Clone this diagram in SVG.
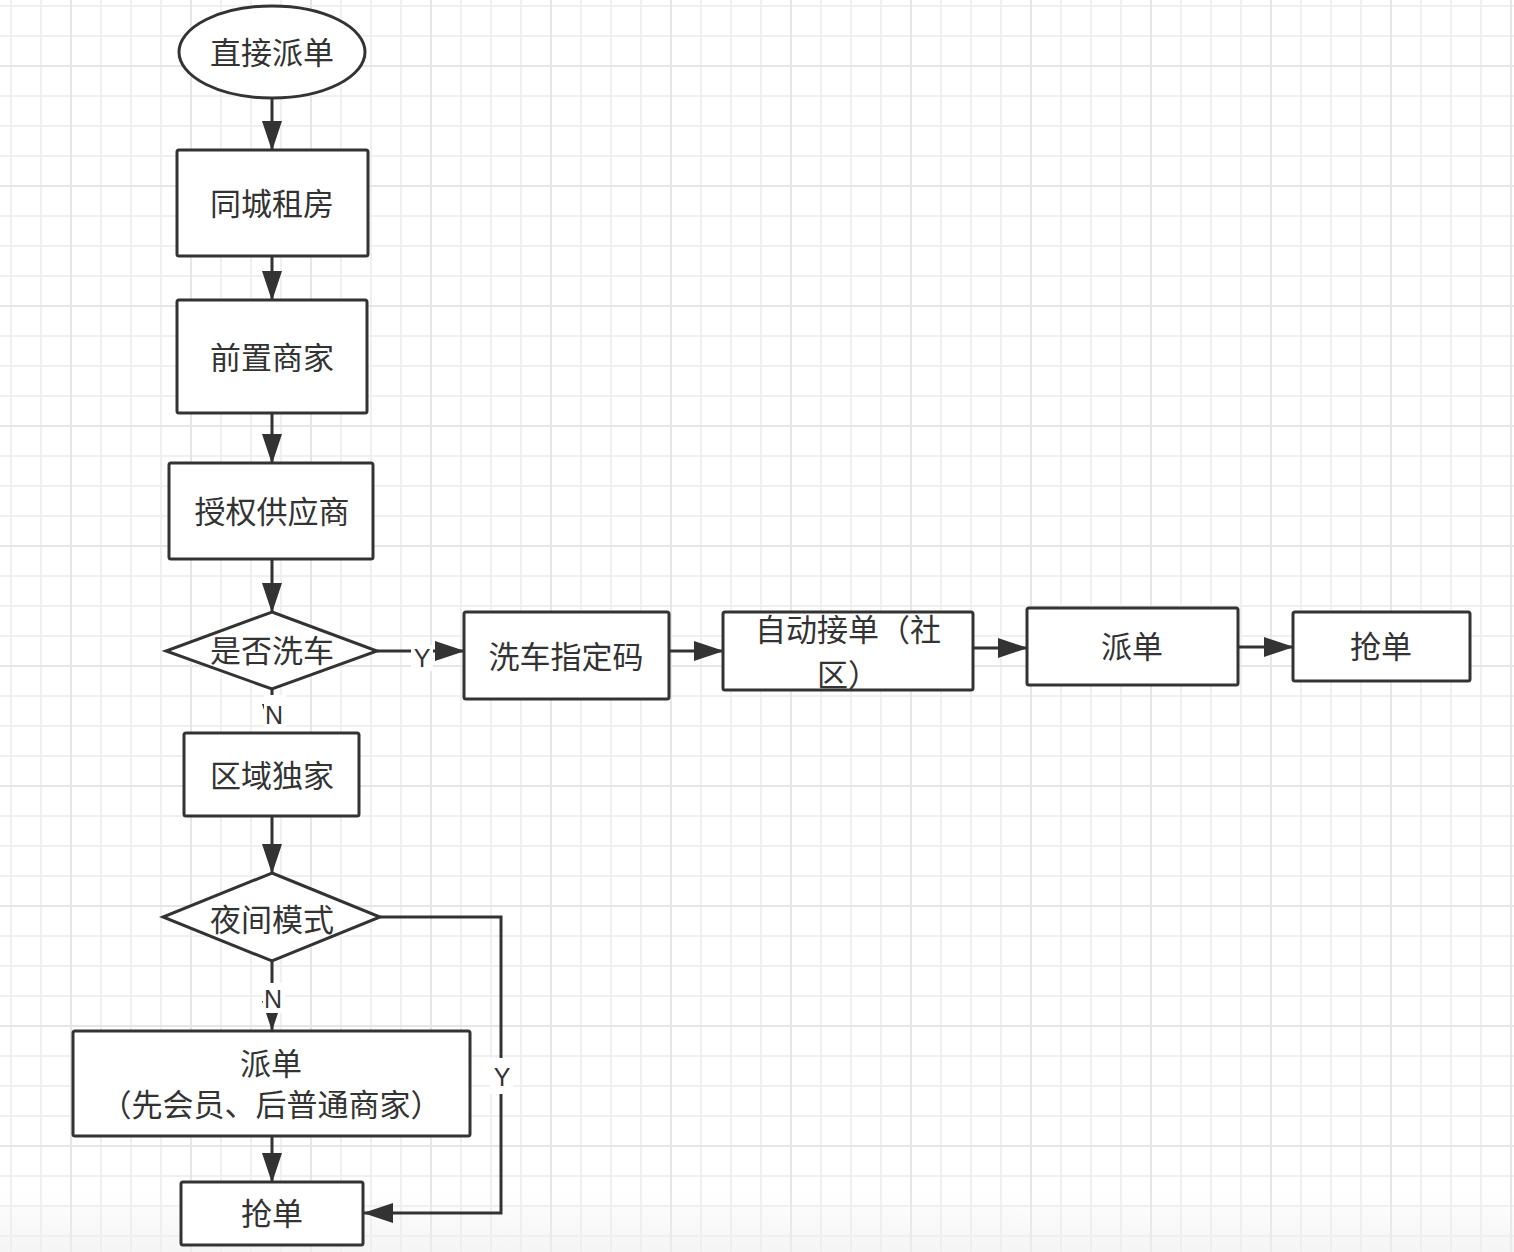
<svg xmlns="http://www.w3.org/2000/svg" width="1514" height="1252" viewBox="0 0 1514 1252">
<style>
.box{fill:#fff;stroke:#333;stroke-width:3}
.t{font-family:"Noto Sans CJK SC","Noto Sans",sans-serif;font-size:31px;fill:#333;text-anchor:middle}
.lbl{font-family:"Liberation Sans",Arial,sans-serif;font-size:25px;fill:#333;text-anchor:middle}
.lblbg{fill:#fff}
.edge{fill:none;stroke:#333;stroke-width:3}
</style>
<defs>
<pattern id="minor" patternUnits="userSpaceOnUse" x="10" y="5" width="30" height="30">
<rect x="0" y="0" width="2" height="30" fill="#f0f0f0"/>
<rect x="0" y="0" width="30" height="2" fill="#f0f0f0"/>
</pattern>
<pattern id="major" patternUnits="userSpaceOnUse" x="70" y="65" width="120" height="120">
<rect x="0" y="0" width="2" height="120" fill="#e6e6e6"/>
<rect x="0" y="0" width="120" height="2" fill="#e6e6e6"/>
</pattern>
<linearGradient id="fade" x1="0" y1="0" x2="0" y2="1">
<stop offset="0" stop-color="#eeeeee" stop-opacity="0"/>
<stop offset="1" stop-color="#eeeeee" stop-opacity="0.6"/>
</linearGradient>
<marker id="arrow" markerUnits="userSpaceOnUse" markerWidth="30" markerHeight="20" refX="29" refY="10" orient="auto">
<path d="M0,0 L30,10 L0,20 Z" fill="#333"/>
</marker>
</defs>
<rect width="1514" height="1252" fill="#fff"/>
<rect width="1514" height="1252" fill="url(#minor)"/>
<rect width="1514" height="1252" fill="url(#major)"/>
<rect x="0" y="1190" width="1514" height="62" fill="url(#fade)"/>

<g id="connectors">
<line class="edge" x1="272" y1="98" x2="272" y2="150" marker-end="url(#arrow)"/>
<line class="edge" x1="272" y1="257" x2="272" y2="300" marker-end="url(#arrow)"/>
<line class="edge" x1="272" y1="413" x2="272" y2="463" marker-end="url(#arrow)"/>
<line class="edge" x1="272" y1="559" x2="272" y2="612" marker-end="url(#arrow)"/>
<line class="edge" x1="377" y1="651" x2="464" y2="651" marker-end="url(#arrow)"/>
<line class="edge" x1="669" y1="651" x2="723" y2="651" marker-end="url(#arrow)"/>
<line class="edge" x1="973" y1="648" x2="1027" y2="648" marker-end="url(#arrow)"/>
<line class="edge" x1="1238" y1="647" x2="1293" y2="647" marker-end="url(#arrow)"/>
<line class="edge" x1="272" y1="689" x2="272" y2="733" marker-end="url(#arrow)"/>
<line class="edge" x1="272" y1="817" x2="272" y2="873" marker-end="url(#arrow)"/>
<line class="edge" x1="272" y1="961" x2="272" y2="1030" marker-end="url(#arrow)"/>
<line class="edge" x1="272" y1="1136" x2="272" y2="1182" marker-end="url(#arrow)"/>
<polyline class="edge" points="380,917 501,917 501,1213 364,1213" marker-end="url(#arrow)"/>
<rect class="lblbg" x="411" y="645" width="22" height="26"/>
<text class="lbl" x="422" y="667">Y</text>
<rect class="lblbg" x="264" y="695" width="22" height="37"/>
<text class="lbl" x="274" y="724">N</text>
<rect class="lblbg" x="263" y="983" width="22" height="30"/>
<text class="lbl" x="273" y="1008">N</text>
<rect class="lblbg" x="490" y="1058" width="23" height="36"/>
<text class="lbl" x="502" y="1086">Y</text>
</g>

<g id="start">
<ellipse class="box" cx="272" cy="52" rx="93" ry="46"/>
<text class="t" x="272" y="64">直接派单</text>
</g>
<g id="tongcheng">
<rect class="box" x="177" y="150" width="191" height="106" rx="2"/>
<text class="t" x="272" y="215">同城租房</text>
</g>
<g id="qianzhi">
<rect class="box" x="177" y="300" width="190" height="113" rx="2"/>
<text class="t" x="272" y="369">前置商家</text>
</g>
<g id="shouquan">
<rect class="box" x="169" y="463" width="204" height="96" rx="2"/>
<text class="t" x="272" y="523">授权供应商</text>
</g>
<g id="xiche-decision">
<polygon class="box" points="272,612 377,651 272,689 166,651"/>
<text class="t" x="272" y="662">是否洗车</text>
</g>
<g id="xiche-code">
<rect class="box" x="464" y="612" width="205" height="87" rx="2"/>
<text class="t" x="566" y="668">洗车指定码</text>
</g>
<g id="auto-accept">
<rect class="box" x="723" y="612" width="250" height="78" rx="2"/>
<text class="t"><tspan x="848" y="641">自动接单（社</tspan><tspan x="848" y="686">区）</tspan></text>
</g>
<g id="paidan-right">
<rect class="box" x="1027" y="608" width="211" height="77" rx="2"/>
<text class="t" x="1132" y="658">派单</text>
</g>
<g id="qiangdan-right">
<rect class="box" x="1293" y="612" width="177" height="69" rx="2"/>
<text class="t" x="1381" y="658">抢单</text>
</g>
<g id="quyu">
<rect class="box" x="184" y="733" width="175" height="83" rx="2"/>
<text class="t" x="272" y="787">区域独家</text>
</g>
<g id="night-decision">
<polygon class="box" points="272,873 380,917 272,961 163,917"/>
<text class="t" x="272" y="931">夜间模式</text>
</g>
<g id="paidan-bottom">
<rect class="box" x="73" y="1031" width="397" height="105" rx="2"/>
<text class="t"><tspan x="271" y="1075">派单</tspan><tspan x="271" y="1116">（先会员、后普通商家）</tspan></text>
</g>
<g id="qiangdan-bottom">
<rect class="box" x="181" y="1182" width="182" height="63" rx="2"/>
<text class="t" x="272" y="1225">抢单</text>
</g>
</svg>
